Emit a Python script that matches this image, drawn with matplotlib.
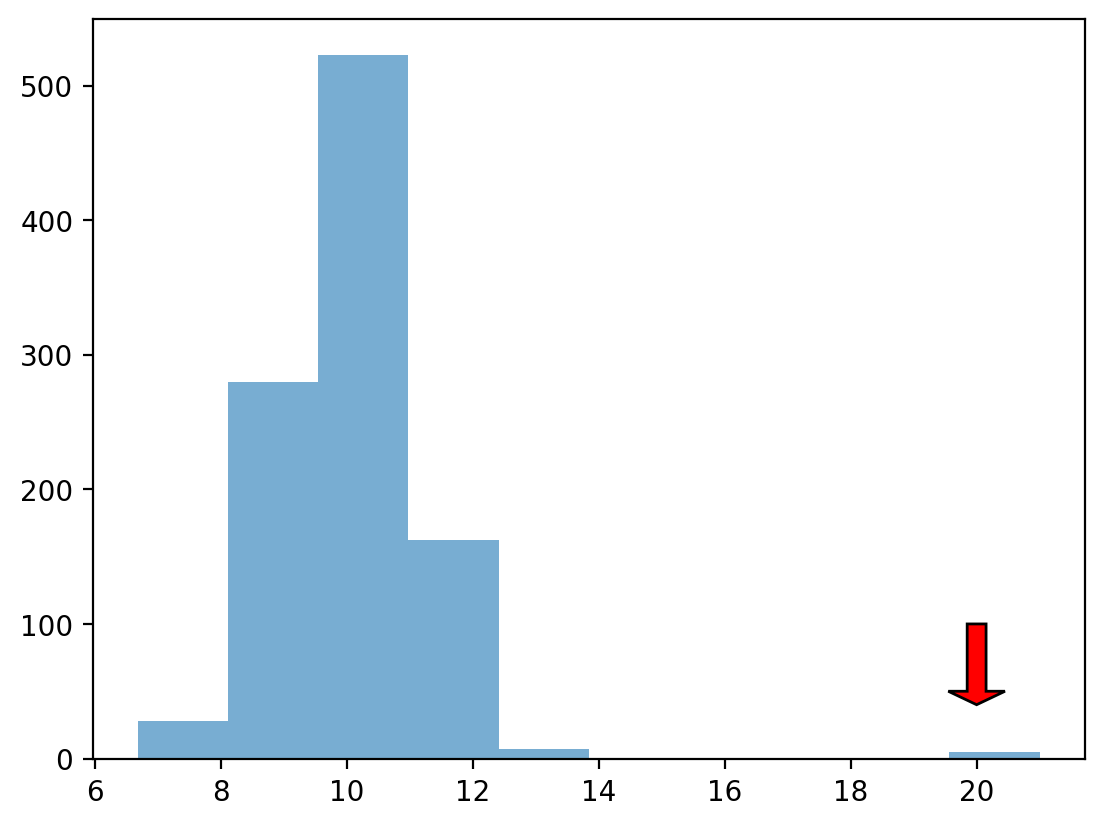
import matplotlib
matplotlib.use("Agg")
import matplotlib.pyplot as plt

# histogram bin edges and counts
bin_edges = [6.68, 8.112, 9.544, 10.976, 12.408, 13.84, 15.272, 16.704, 18.136, 19.568, 21.0]
counts = [28, 280, 523, 162, 7, 0, 0, 0, 0, 5]

# arrow pointing at the outlier bin
arrow_x = 20
arrow_start = 100
arrow_end = 40

fig, ax = plt.subplots(figsize=(6.4, 4.8))
ax.hist(bin_edges[:-1], bins=bin_edges, weights=counts, alpha=0.6)

head_len = 10
ax.arrow(arrow_x, arrow_start, 0, arrow_end - arrow_start + head_len,
         width=0.3, head_width=0.9, head_length=head_len,
         fc="red", ec="black")

fig.savefig("out.png", dpi=200, bbox_inches="tight")
